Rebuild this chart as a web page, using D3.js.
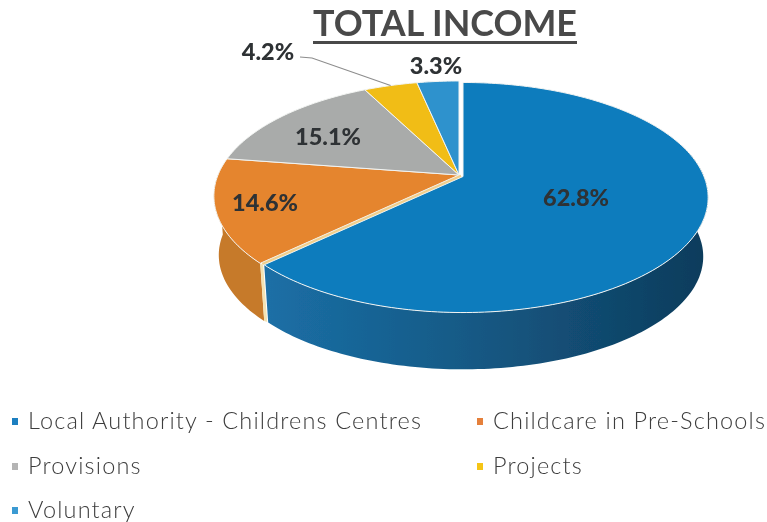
<!DOCTYPE html>
<html>
<head>
<meta charset="utf-8">
<title>Total Income</title>
<script src="https://cdn.jsdelivr.net/npm/d3@7"></script>
<style>
  html, body { margin: 0; padding: 0; background: #fff; }
  svg { display: block; }
  text { font-family: Lato, "Open Sans", sans-serif; }
</style>
</head>
<body>
<svg id="chart" width="767" height="522"></svg>
<script>
const categories = ['Local Authority - Childrens Centres', 'Childcare in Pre-Schools', 'Provisions', 'Projects', 'Voluntary'];
const shares = [62.8, 14.6, 15.1, 4.2, 3.3];
const shareLabels = ['62.8%', '14.6%', '15.1%', '4.2%', '3.3%'];
const titleText = 'TOTAL INCOME';

const topColors = ['#0f7cbd', '#e5852d', '#a9abaa', '#f1bd15', '#2f92cd'];
const legendColors = ['#1f7fc0', '#e5803a', '#b4b4b4', '#f5c518', '#3a9ad2'];

// layout
const apex = { x: 459, y: 175 };       // where the slices meet, above the ellipse centre because of perspective
const R = 241, S = 111.2, K = 0.1826;  // projective disc -> screen
const wall = { dy: 59.5, scale: 0.98 }; // lower rim of the pie
const explode = [{ x: 4, y: 1.5 }, { x: 0, y: 0 }, { x: 0, y: 0 }, { x: 0, y: 0 }, { x: 0, y: 0 }];
const labelAt = [[576, 198], [265, 203], [328, 137], [268, 52], [436, 66]];
const legendAt = [[12, 28, 421], [477, 493, 421], [12, 28, 466], [477, 493, 466], [12, 28, 510]];

const svg = d3.select('#chart');
const defs = svg.append('defs');
defs.append('filter').attr('id', 'scan').append('feGaussianBlur').attr('stdDeviation', 0.45);

const blueWall = defs.append('linearGradient').attr('id', 'blueWall')
  .attr('gradientUnits', 'userSpaceOnUse').attr('x1', 265).attr('x2', 705).attr('y1', 0).attr('y2', 0);
blueWall.append('stop').attr('offset', 0).attr('stop-color', '#1b6fa6');
blueWall.append('stop').attr('offset', 0.45).attr('stop-color', '#155a86');
blueWall.append('stop').attr('offset', 1).attr('stop-color', '#0e3c5c');

const page = svg.append('g').attr('filter', 'url(#scan)');

// angle is clockwise from 12 o'clock on the flat disc
function project(angle, r, off, lower) {
  const u = r * Math.sin(angle), v = r * Math.cos(angle), w = 1 + K * v;
  const sc = lower ? wall.scale : 1;
  return [
    apex.x + off.x + sc * R * u / w,
    apex.y + off.y + (lower ? wall.dy : 0) - sc * S * v / w
  ];
}

function rim(a0, a1, off, lower) {
  const n = Math.max(2, Math.ceil((a1 - a0) / 0.02));
  return d3.range(n + 1).map(function (i) { return project(a0 + (a1 - a0) * i / n, 1, off, lower); });
}

const line = d3.line();
const arcs = d3.pie().sort(null).value(function (d) { return d; })(shares);

// outer walls first, the top faces cover whatever is behind them
const wallAngle = Math.PI * 1.5;
const blueEnd = arcs[0].endAngle;
page.append('path')
  .attr('d', line(rim(blueEnd, wallAngle, explode[1], false).concat(rim(blueEnd, wallAngle, explode[1], true).reverse())) + 'Z')
  .attr('fill', '#c67a2b');
// inner cut of the orange slice, seen through the gap
const cutTop = project(blueEnd, 1, explode[1], false), cutLow = project(blueEnd, 1, explode[1], true);
page.append('path')
  .attr('d', line([cutTop, cutLow, [cutLow[0] + 3, cutLow[1] + 1], [cutTop[0] + 3, cutTop[1] + 2]]) + 'Z')
  .attr('fill', '#f3e3b4');
page.append('path')
  .attr('d', line(rim(Math.PI * 0.4, blueEnd, explode[0], false).concat(rim(Math.PI * 0.4, blueEnd, explode[0], true).reverse())) + 'Z')
  .attr('fill', 'url(#blueWall)');

// top faces
page.selectAll('path.face').data(arcs).join('path')
  .attr('class', 'face')
  .attr('d', function (d, i) {
    return line([project(0, 0, explode[i], false)].concat(rim(d.startAngle, d.endAngle, explode[i], false))) + 'Z';
  })
  .attr('fill', function (d, i) { return topColors[i]; })
  .attr('stroke', '#f2f4f2').attr('stroke-width', 1).attr('stroke-linejoin', 'round');

// the gap under the exploded slice reads as a thin cream line in the scan
const gapFrom = project(0, 0, { x: explode[0].x / 2, y: explode[0].y / 2 }, false);
const gapTo = project(blueEnd, 1, { x: explode[0].x / 2, y: explode[0].y / 2 }, false);
page.append('path')
  .attr('d', line([gapFrom, gapTo]))
  .attr('fill', 'none').attr('stroke', '#f0cf8c').attr('stroke-width', 2.2);

// leader for the Projects label
const mid = (arcs[3].startAngle + arcs[3].endAngle) / 2;
const tip = project(mid, 1, explode[3], false);
page.append('path')
  .attr('d', line([[300, 57], [312, 58], tip]))
  .attr('fill', 'none').attr('stroke', '#8d8d8d').attr('stroke-width', 1.1);

// percentages
page.selectAll('text.share').data(shareLabels).join('text')
  .attr('class', 'share')
  .attr('x', function (d, i) { return labelAt[i][0]; })
  .attr('y', function (d, i) { return labelAt[i][1]; })
  .attr('text-anchor', 'middle').attr('dy', '0.35em')
  .attr('font-size', 23.5).attr('font-weight', 900).attr('fill', '#2f3234')
  .text(function (d) { return d; });

// title
page.append('text')
  .attr('x', 313).attr('y', 36)
  .attr('textLength', 264).attr('lengthAdjust', 'spacingAndGlyphs')
  .attr('font-size', 36).attr('font-weight', 700).attr('fill', '#4a4a4a')
  .text(titleText);
page.append('rect').attr('x', 313).attr('y', 41).attr('width', 264).attr('height', 3).attr('fill', '#4a4a4a');

// legend
const legend = page.selectAll('g.legend').data(categories).join('g').attr('class', 'legend');
legend.append('rect')
  .attr('x', function (d, i) { return legendAt[i][0]; })
  .attr('y', function (d, i) { return legendAt[i][2] - 3; })
  .attr('width', 6).attr('height', 7)
  .attr('fill', function (d, i) { return legendColors[i]; });
legend.append('text')
  .attr('x', function (d, i) { return legendAt[i][1]; })
  .attr('y', function (d, i) { return legendAt[i][2]; })
  .attr('dy', '0.35em')
  .attr('font-size', 23.5).attr('font-weight', 300).attr('letter-spacing', 1.16).attr('fill', '#3c3c3c')
  .text(function (d) { return d; });
</script>
</body>
</html>
